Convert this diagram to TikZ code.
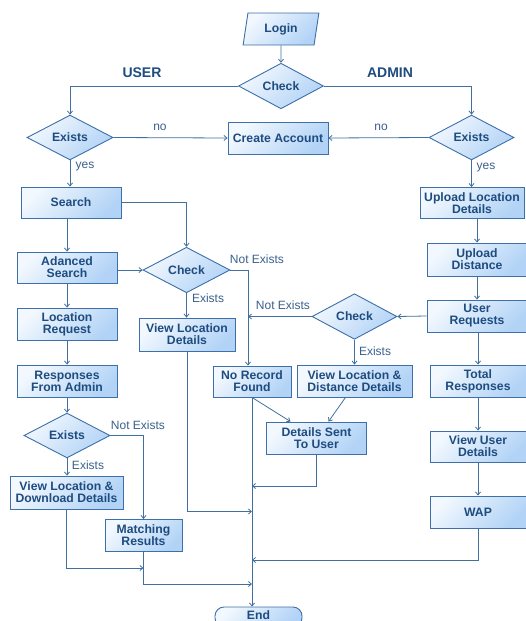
\documentclass[tikz,border=0pt]{standalone}
\usepackage{fontspec}
\setmainfont{Liberation Sans}
\usetikzlibrary{shapes.geometric,arrows.meta,calc}
\definecolor{lineC}{HTML}{41709F}
\definecolor{borderC}{HTML}{3D6FA8}
\definecolor{textC}{HTML}{1E4C80}
\definecolor{lblC}{HTML}{3A5F8C}
\definecolor{fillL}{HTML}{F2F8FE}
\definecolor{fillD}{HTML}{B2D3F6}
\begin{document}
\begin{tikzpicture}[x=1pt,y=-1pt,
  shadebox/.style={draw=borderC, line width=0.9pt, top color=fillL, bottom color=fillD, shading angle=45,
    inner sep=0pt, align=center, text=textC, font=\bfseries\fontsize{12.2}{12}\selectfont},
  box/.style={shadebox, rectangle},
  dec/.style={shadebox, diamond, minimum width=86pt, minimum height=39pt},
  lbl/.style={text=lblC, font=\fontsize{12}{12}\selectfont, inner sep=0pt},
  ttl/.style={text=textC, font=\bfseries\fontsize{14}{14}\selectfont, inner sep=0pt},
  arr/.style={draw=lineC, line width=0.8pt, -{Straight Barb[length=3pt,width=5pt]}}
]
\useasboundingbox (0,0) rectangle (526,621);

% nodes
\node[shadebox, trapezium, trapezium left angle=78, trapezium right angle=102, trapezium stretches=true,
  minimum width=76pt, minimum height=32pt] (login) at (281,29) {Login};
\node[dec, minimum width=85pt, minimum height=40pt] (check1) at (281,86) {Check};
\node[dec] (exists1) at (70,137.5) {Exists};
\node[dec, minimum width=85pt] (exists2) at (471.5,137.5) {Exists};
\node[box, minimum width=100pt, minimum height=32pt] (create) at (278,138) {Create Account};

\node[box, minimum width=100pt, minimum height=31pt] (search) at (71,202.5) {Search};
\node[box, minimum width=100pt, minimum height=31pt] (adv) at (67,267.5) {Adanced\\Search};
\node[box, minimum width=100pt, minimum height=32pt] (locreq) at (67,324) {Location\\Request};
\node[box, minimum width=100pt, minimum height=32pt] (resp) at (67,381) {Responses\\From Admin};
\node[dec] (exists3) at (67,435.5) {Exists};
\node[box, minimum width=113pt, minimum height=33pt] (vldd) at (66.5,492.5) {View Location \&\\Download Details};
\node[box, minimum width=77pt, minimum height=32pt] (match) at (143.5,535.5) {Matching\\Results};

\node[dec, minimum width=87pt, minimum height=38pt] (check2) at (186.5,270) {Check};
\node[box, minimum width=96pt, minimum height=33pt] (viewloc) at (187,334.5) {View Location\\Details};
\node[box, minimum width=78pt, minimum height=31pt] (norec) at (252,381.5) {No Record\\Found};

\node[dec, minimum width=85pt] (check3) at (354.5,316.5) {Check};
\node[box, minimum width=115pt, minimum height=32pt] (vld) at (354.5,381) {View Location \&\\Distance Details};
\node[box, minimum width=100pt, minimum height=32pt] (dst) at (316.5,438) {Details Sent\\To User};

\node[box, minimum width=104pt, minimum height=31pt] (uploc) at (472,203) {Upload Location\\Details};
\node[box, minimum width=100pt, minimum height=33pt] (updist) at (477,259.5) {Upload\\Distance};
\node[box, minimum width=100pt, minimum height=32pt] (userreq) at (477,316) {User\\Requests};
\node[box, minimum width=96pt, minimum height=32pt] (totresp) at (478,381) {Total\\Responses};
\node[box, minimum width=96pt, minimum height=31pt] (viewuser) at (478,446.5) {View User\\Details};
\node[box, minimum width=96pt, minimum height=32pt] (wap) at (478,512) {WAP};

\node[box, rounded corners=9pt, minimum width=87pt, minimum height=20pt] (end) at (258.5,617) {};
\node[text=textC, font=\bfseries\fontsize{12.2}{12}\selectfont, inner sep=0pt, anchor=base] (endtxt) at (258.5,619.5) {End};

% labels
\node[ttl] (tuser) at (142,73) {USER};
\node[ttl] (tadmin) at (390,73) {ADMIN};
\node[lbl] (lno1) at (160,127) {no};
\node[lbl] (lno2) at (381,127) {no};
\node[lbl] (lyes1) at (85,167) {yes};
\node[lbl] (lyes2) at (486,168) {yes};
\node[lbl] (lne1) at (257,259) {Not Exists};
\node[lbl] (lex1) at (208,298) {Exists};
\node[lbl] (lne2) at (283,305) {Not Exists};
\node[lbl] (lex2) at (375,351) {Exists};
\node[lbl] (lne3) at (138,425) {Not Exists};
\node[lbl] (lex3) at (88,465) {Exists};

% helper coordinates
\coordinate (vx) at (248,0);
\coordinate (j1) at (252,486);
\coordinate (j2) at (252,511.5);
\coordinate (j3) at (252,560);
\coordinate (j4) at (252,584);
\coordinate (jm) at (143.5,568);

% connectors
\draw[arr] (login.south) -- (check1.north);
\draw[arr] (check1.west) -| (exists1.north);
\draw[arr] (check1.east) -| (exists2.north);
\draw[arr] (exists1.east) -- (create.west);
\draw[arr] (exists2.west) -- (create.east);
\draw[arr] (exists1.south) -- (exists1.south |- search.north);
\draw[arr] (exists2.south) -- (exists2.south |- uploc.north);

\draw[arr] (search.east) -| (check2.north);
\draw[arr] (search.south -| adv.north) -- (adv.north);
\draw[arr] (adv.south) -- (locreq.north);
\draw[arr] (locreq.south) -- (resp.north);
\draw[arr] (resp.south) -- (exists3.north);
\draw[arr] (adv.east |- check2.west) -- (check2.west);
\draw[arr] (check2.south) -- (check2.south |- viewloc.north);
\draw[arr] (check2.east) -| (vx |- norec.north);
\draw[arr] (check3.west) -- (vx |- check3.west);
\draw[arr] (userreq.west) -- (check3.east);
\draw[arr] (check3.south) -- (vld.north);
\draw[arr] (norec.south) -- ($(dst.north)+(-26,0)$);
\draw[arr] ($(vld.south)+(-9,0)$) -- ($(dst.north)+(12,0)$);
\draw[arr] (norec.south) -- (norec.south |- end.north);
\draw[arr] (dst.south) |- (j1);
\draw[arr] (viewloc.south) |- (j2);
\draw[arr] (wap.south) |- (j3);
\draw[arr] (match.south) |- (j4);
\draw[arr] (vldd.south) |- (jm);
\draw[arr] (exists3.east) -| (match.north);
\draw[arr] (exists3.south) -- (exists3.south |- vldd.north);

\draw[arr] (uploc.south -| updist.north) -- (updist.north);
\draw[arr] (updist.south) -- (userreq.north);
\draw[arr] (userreq.south -| totresp.north) -- (totresp.north);
\draw[arr] (totresp.south) -- (viewuser.north);
\draw[arr] (viewuser.south) -- (wap.north);
\end{tikzpicture}
\end{document}
